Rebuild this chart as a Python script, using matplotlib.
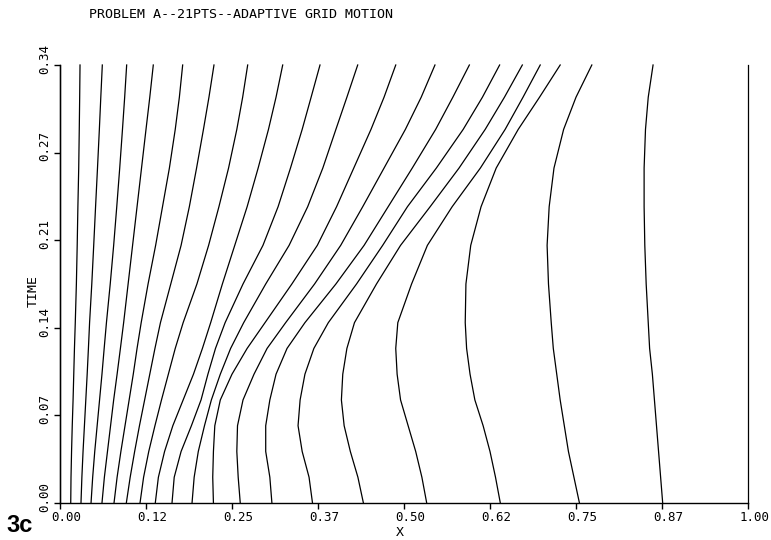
import matplotlib.pyplot as plt
from matplotlib.transforms import ScaledTranslation

# sampled time levels
t_grid = [0.0, 0.02, 0.04, 0.06, 0.08, 0.10, 0.12, 0.14, 0.17, 0.20, 0.23, 0.26, 0.29, 0.315, 0.34]

# x position of each of the 21 grid nodes at the times in t_grid
node_x = [
    [0.0, 0.0, 0.0, 0.0, 0.0, 0.0, 0.0, 0.0, 0.0, 0.0, 0.0, 0.0, 0.0, 0.0, 0.0],
    [0.0156, 0.0160, 0.0168, 0.0178, 0.0190, 0.0200, 0.0210, 0.0222, 0.0238, 0.0250, 0.0260, 0.0272, 0.0280, 0.0286, 0.0291],
    [0.0305, 0.0318, 0.0335, 0.0355, 0.0375, 0.0395, 0.0413, 0.0430, 0.0462, 0.0490, 0.0517, 0.0545, 0.0572, 0.0593, 0.0615],
    [0.0451, 0.0475, 0.0505, 0.0540, 0.0575, 0.0610, 0.0642, 0.0675, 0.0730, 0.0780, 0.0825, 0.0868, 0.0908, 0.0940, 0.0969],
    [0.0610, 0.0645, 0.0690, 0.0735, 0.0780, 0.0830, 0.0878, 0.0925, 0.0990, 0.1055, 0.1120, 0.1185, 0.1250, 0.1305, 0.1356],
    [0.0785, 0.0830, 0.0885, 0.0945, 0.1005, 0.1065, 0.1120, 0.1180, 0.1280, 0.1390, 0.1490, 0.1590, 0.1675, 0.1735, 0.1783],
    [0.0964, 0.1020, 0.1085, 0.1155, 0.1230, 0.1305, 0.1380, 0.1460, 0.1610, 0.1760, 0.1880, 0.1985, 0.2085, 0.2165, 0.2238],
    [0.1163, 0.1215, 0.1290, 0.1380, 0.1475, 0.1575, 0.1675, 0.1790, 0.1990, 0.2160, 0.2310, 0.2450, 0.2570, 0.2655, 0.2728],
    [0.1385, 0.1430, 0.1520, 0.1640, 0.1790, 0.1940, 0.2070, 0.2190, 0.2360, 0.2540, 0.2720, 0.2880, 0.3030, 0.3140, 0.3237],
    [0.1628, 0.1660, 0.1760, 0.1910, 0.2050, 0.2150, 0.2260, 0.2400, 0.2660, 0.2950, 0.3170, 0.3350, 0.3520, 0.3650, 0.3779],
    [0.1919, 0.1950, 0.2010, 0.2100, 0.2200, 0.2330, 0.2480, 0.2670, 0.2990, 0.3330, 0.3600, 0.3820, 0.4010, 0.4170, 0.4327],
    [0.2230, 0.2220, 0.2230, 0.2250, 0.2330, 0.2500, 0.2720, 0.2980, 0.3370, 0.3740, 0.4020, 0.4270, 0.4520, 0.4710, 0.4880],
    [0.2620, 0.2590, 0.2570, 0.2580, 0.2660, 0.2820, 0.3010, 0.3280, 0.3700, 0.4080, 0.4400, 0.4710, 0.5020, 0.5250, 0.5450],
    [0.3080, 0.3050, 0.2990, 0.2990, 0.3050, 0.3140, 0.3300, 0.3560, 0.4010, 0.4420, 0.4770, 0.5120, 0.5460, 0.5710, 0.5950],
    [0.3670, 0.3620, 0.3520, 0.3460, 0.3490, 0.3560, 0.3690, 0.3900, 0.4310, 0.4690, 0.5050, 0.5470, 0.5860, 0.6140, 0.6390],
    [0.4410, 0.4330, 0.4220, 0.4130, 0.4090, 0.4110, 0.4170, 0.4280, 0.4600, 0.4950, 0.5380, 0.5800, 0.6180, 0.6460, 0.6720],
    [0.5330, 0.5260, 0.5170, 0.5060, 0.4950, 0.4900, 0.4880, 0.4910, 0.5110, 0.5340, 0.5700, 0.6110, 0.6470, 0.6730, 0.6980],
    [0.6400, 0.6330, 0.6250, 0.6150, 0.6030, 0.5960, 0.5910, 0.5890, 0.5900, 0.5970, 0.6120, 0.6340, 0.6660, 0.6970, 0.7270],
    [0.7550, 0.7470, 0.7390, 0.7330, 0.7270, 0.7220, 0.7170, 0.7140, 0.7100, 0.7080, 0.7110, 0.7180, 0.7320, 0.7500, 0.7730],
    [0.8760, 0.8730, 0.8700, 0.8670, 0.8640, 0.8610, 0.8570, 0.8550, 0.8520, 0.8500, 0.8490, 0.8490, 0.8510, 0.8550, 0.8620],
    [1.0, 1.0, 1.0, 1.0, 1.0, 1.0, 1.0, 1.0, 1.0, 1.0, 1.0, 1.0, 1.0, 1.0, 1.0],
]

x_ticks = [0.0, 0.125, 0.25, 0.375, 0.5, 0.625, 0.75, 0.875, 1.0]
x_labels = ["0.00", "0.12", "0.25", "0.37", "0.50", "0.62", "0.75", "0.87", "1.00"]
t_ticks = [0.0, 0.068, 0.136, 0.204, 0.272, 0.34]
t_labels = ["0.00", "0.07", "0.14", "0.21", "0.27", "0.34"]

mono = "DejaVu Sans Mono"

fig = plt.figure(figsize=(7.71, 5.40), dpi=100)
ax = fig.add_axes([60 / 771, 37 / 540, 688 / 771, 438 / 540])

for xs in node_x:
    ax.plot(xs, t_grid, color="black", lw=0.9, clip_on=False)

ax.set_xlim(0, 1.0)
ax.set_ylim(0, 0.34)
for side in ("top", "right"):
    ax.spines[side].set_visible(False)
for side in ("left", "bottom"):
    ax.spines[side].set_linewidth(1.0)

ax.set_xticks(x_ticks)
ax.set_xticklabels(x_labels, family=mono, fontsize=9)
ax.set_yticks(t_ticks)
ax.set_yticklabels(t_labels, family=mono, fontsize=9, rotation=90, va="center")
ax.tick_params(direction="out", length=4, width=1, pad=2)

# plotter-style labels sit a little off their tick marks
shift_x = ScaledTranslation(4.5 / 72, 0, fig.dpi_scale_trans)
shift_y = ScaledTranslation(0, 4.5 / 72, fig.dpi_scale_trans)
for lab in ax.get_xticklabels():
    lab.set_transform(lab.get_transform() + shift_x)
for lab in ax.get_yticklabels():
    lab.set_transform(lab.get_transform() + shift_y)

fig.text(400 / 771, 1 - 533 / 540, "X", family=mono, fontsize=9.5, ha="center", va="center")
fig.text(33 / 771, 1 - 291 / 540, "TIME", family=mono, fontsize=9.5, rotation=90,
         ha="center", va="center")
fig.text(89 / 771, 1 - 15 / 540, "PROBLEM A--21PTS--ADAPTIVE GRID MOTION", family=mono,
         fontsize=9.6, ha="left", va="center")
fig.text(6 / 771, 1 - 526 / 540, "3c", family="Liberation Sans", weight="bold",
         fontsize=17, ha="left", va="center")

fig.savefig("out.png", dpi=100)
